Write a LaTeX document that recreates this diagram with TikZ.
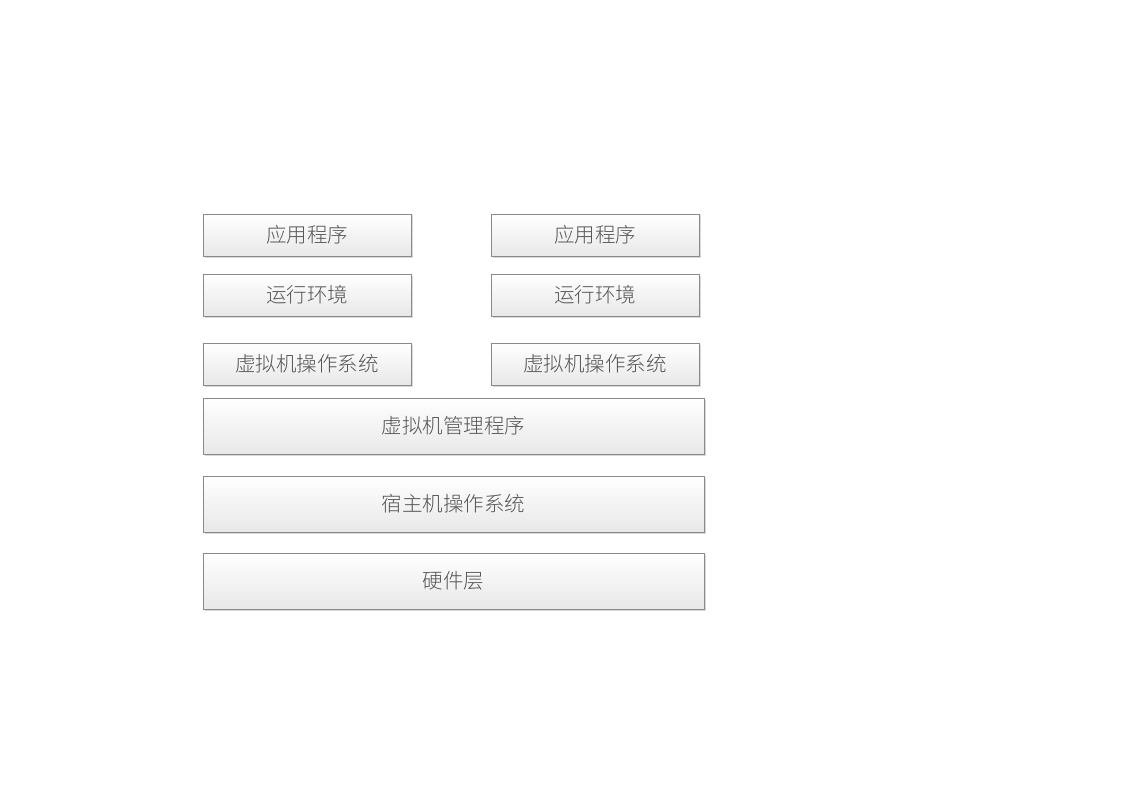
\documentclass[tikz,border=0pt]{standalone}
\usepackage{fontspec}
\newfontfamily\cjk{Noto Sans CJK SC Light}
\usetikzlibrary{shadows}
\definecolor{boxline}{HTML}{8A8A8A}
\definecolor{boxbot}{HTML}{E8E8E8}
\definecolor{txt}{HTML}{555555}
\tikzset{
  layer/.style={draw=boxline, line width=0.8pt, top color=white, bottom color=boxbot,
    drop shadow={shadow xshift=1.5pt, shadow yshift=-1.5pt, fill=black!25, opacity=0.6},
    text=txt, font=\cjk\fontsize{20.5}{24}\selectfont, inner sep=0pt}
}
\begin{document}
\begin{tikzpicture}[x=1pt,y=-1pt]
\useasboundingbox (0,0) rectangle (1123,794);
% small boxes: width 208, height 42
\node[layer, minimum width=208pt, minimum height=42pt] (appL) at (307,235) {应用程序};
\node[layer, minimum width=208pt, minimum height=42pt] (appR) at (595,235) {应用程序};
\node[layer, minimum width=208pt, minimum height=42pt] (rtL) at (307,295) {运行环境};
\node[layer, minimum width=208pt, minimum height=42pt] (rtR) at (595,295) {运行环境};
\node[layer, minimum width=208pt, minimum height=42pt] (osL) at (307,364) {虚拟机操作系统};
\node[layer, minimum width=208pt, minimum height=42pt] (osR) at (595,364) {虚拟机操作系统};
% wide boxes: width 501, height 56
\node[layer, minimum width=501pt, minimum height=56pt] (hyp) at (453.5,426) {虚拟机管理程序};
\node[layer, minimum width=501pt, minimum height=56pt] (host) at (453.5,504) {宿主机操作系统};
\node[layer, minimum width=501pt, minimum height=56pt] (hw) at (453.5,581) {硬件层};
\end{tikzpicture}
\end{document}
